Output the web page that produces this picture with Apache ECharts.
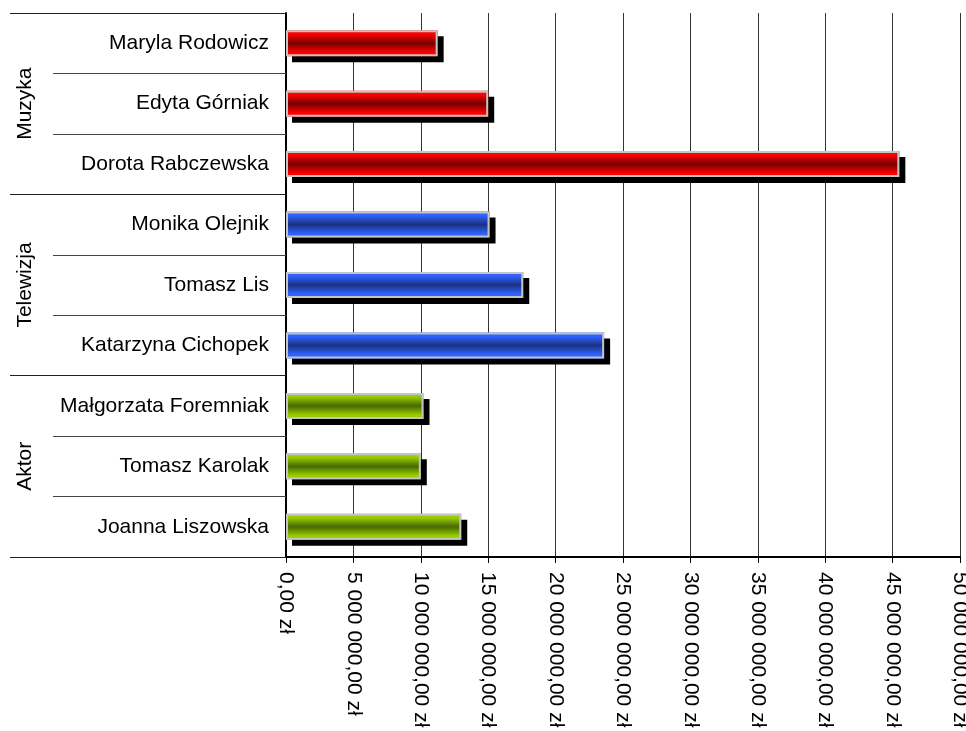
<!DOCTYPE html>
<html>
<head>
<meta charset="utf-8">
<script src="https://cdn.jsdelivr.net/npm/echarts@6/dist/echarts.min.js"></script>
<style>
html,body{margin:0;padding:0;background:#fff;}
#chart{width:966px;height:731px;}
</style>
</head>
<body>
<div id="chart"></div>
<script>
var names = ['Maryla Rodowicz','Edyta Górniak','Dorota Rabczewska','Monika Olejnik','Tomasz Lis','Katarzyna Cichopek','Małgorzata Foremniak','Tomasz Karolak','Joanna Liszowska'];
var groups = ['Muzyka','Telewizja','Aktor'];
var groupOf = [0,0,0,1,1,1,2,2,2];
var values = [11250000,15000000,45500000,15100000,17600000,23600000,10200000,10000000,13000000];
var groupEdge = ['#ff0000','#2f62ff','#99cc00'];
var groupMid = ['#740000','#1b3180','#476800'];

function fmt(v){
  var s = Math.round(v).toString().replace(/\B(?=(\d{3})+(?!\d))/g,' ');
  return s + ',00 zł';
}

var fillData = values.map(function(v,i){
  var g = groupOf[i];
  return {
    value: v,
    itemStyle: {
      color: new echarts.graphic.LinearGradient(0,0,0,1,[
        {offset:0,color:groupEdge[g]},
        {offset:0.15,color:groupEdge[g]},
        {offset:0.5,color:groupMid[g]},
        {offset:0.85,color:groupEdge[g]},
        {offset:1,color:groupEdge[g]}
      ])
    }
  };
});

var FONT = 'Liberation Sans, Arial, sans-serif';
var chart = echarts.init(document.getElementById('chart'), null, {renderer:'canvas'});
chart.setOption({
  animation:false,
  backgroundColor:'#ffffff',
  grid:{left:286,right:6,top:13,bottom:174,containLabel:false,outerBoundsMode:'none'},
  xAxis:{
    type:'value',min:0,max:50000000,interval:5000000,
    axisLine:{show:true,lineStyle:{color:'#000',width:2}},
    axisTick:{show:true,length:6,lineStyle:{color:'#000',width:1}},
    splitLine:{show:true,lineStyle:{color:'#333',width:1}},
    axisLabel:{rotate:-90,margin:15,color:'#000',fontSize:21,fontFamily:FONT,formatter:fmt,showMinLabel:true,showMaxLabel:true}
  },
  yAxis:[{
    type:'category',data:names,inverse:true,position:'left',
    axisLine:{show:true,lineStyle:{color:'#000',width:2}},
    axisTick:{show:true,interval:0,length:233,lineStyle:{color:'#444',width:1}},
    axisLabel:{interval:0,margin:17,color:'#000',fontSize:21,fontFamily:FONT},
    splitLine:{show:false}
  },{
    type:'category',data:groups,inverse:true,position:'left',offset:0,
    axisLine:{show:false},
    axisTick:{show:true,interval:0,length:276,lineStyle:{color:'#222',width:1}},
    axisLabel:{interval:0,rotate:90,margin:250,color:'#000',fontSize:21,fontFamily:FONT},
    splitLine:{show:false}
  }],
  series:[{
    type:'bar',
    yAxisIndex:0,
    data:fillData,
    barWidth:26,
    barGap:'-100%',
    itemStyle:{
      borderWidth:0,
      shadowColor:'#000',shadowBlur:0,shadowOffsetX:6,shadowOffsetY:6
    }
  },{
    type:'bar',
    yAxisIndex:0,
    data:values,
    barWidth:26,
    barGap:'-100%',
    itemStyle:{
      color:'rgba(0,0,0,0)',
      borderColor:'#c4c4c4',borderWidth:2
    }
  }]
});
</script>
</body>
</html>
